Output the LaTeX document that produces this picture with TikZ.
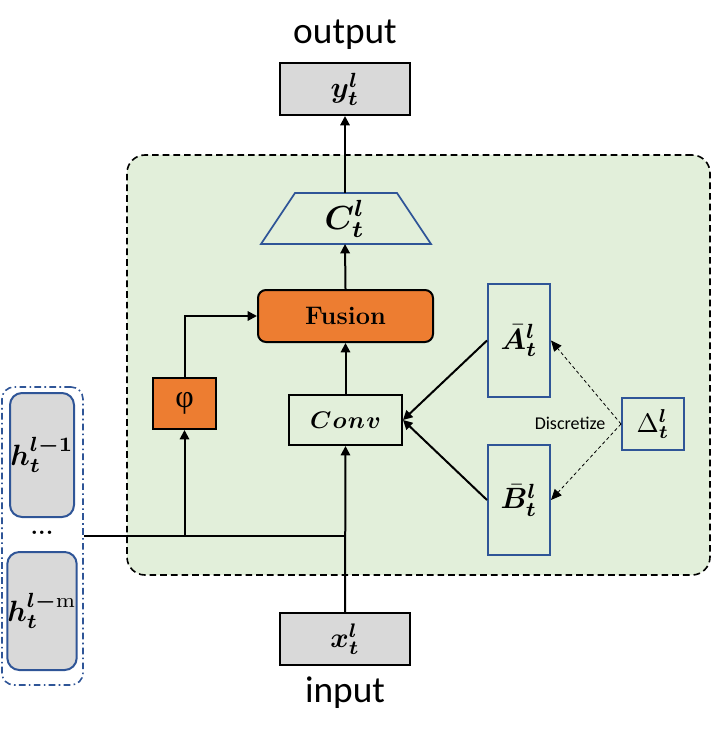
\documentclass[tikz,border=0pt]{standalone}
\usepackage{graphicx}
\usepackage{amsmath,bm}
\usepackage{fontspec}
\newfontfamily\calibfont{Carlito}
\newfontfamily\greekfont{Liberation Serif}
\usetikzlibrary{arrows.meta}
\definecolor{grn}{HTML}{E2EFDA}
\definecolor{org}{HTML}{ED7D31}
\definecolor{gry}{HTML}{D9D9D9}
\definecolor{blu}{HTML}{2F5597}
\newcommand{\fs}[1]{\fontsize{#1}{#1}\selectfont}
\newcommand{\mth}[2]{\scalebox{#1}{\normalsize$#2$}}
\begin{document}
\begin{tikzpicture}[x=0.75pt,y=-0.75pt,
  blk/.style={draw=black,line width=1.5pt,inner sep=0pt},
  bluebox/.style={draw=blu,line width=1.5pt,inner sep=0pt},
  conn/.style={line width=1.5pt,-{Triangle[length=7pt,width=7pt]}},
  plain/.style={line width=1.5pt},
  dconn/.style={line width=0.6pt,dash pattern=on 2.5pt off 2pt,-{Triangle[length=8pt,width=7pt]}},
  lbl/.style={inner sep=0pt,font=\calibfont\fs{28pt}}]
\useasboundingbox (0,0) rectangle (712,741);
% green region
\node[draw=black,fill=grn,line width=1.2pt,dash pattern=on 5pt off 3pt,rounded corners=13.5pt,
  minimum width=437.25pt,minimum height=315pt,inner sep=0pt] (region) at (418.5,365) {};
% left group
\node[draw=blu,line width=1.2pt,dash pattern=on 5pt off 2.5pt on 1.2pt off 2.5pt,rounded corners=9pt,
  minimum width=60.75pt,minimum height=223.5pt,inner sep=0pt] (grp) at (42.5,536) {};
\node[bluebox,fill=gry,rounded corners=9pt,minimum width=48pt,minimum height=93pt] (h1) at (42,455)
  {\mth{2.2}{\bm{h}_{\bm t}^{\bm{l-1}}}};
\node[bluebox,fill=gry,rounded corners=9pt,minimum width=48pt,minimum height=88.5pt] (hm) at (42,611)
  {\mth{2.2}{\bm{h}_{\bm t}^{\bm{l-}\mathrm{m}}}};
\node[inner sep=0pt,font=\bfseries\fs{18pt}] (dots) at (42,533) {...};
% output / input
\node[lbl] (outlbl) at (345,35) {output};
\node[lbl] (inlbl) at (345,693) {input};
\node[blk,fill=gry,minimum width=97.5pt,minimum height=39pt] (y) at (345,89)
  {\mth{2.2}{\bm{y}_{\bm t}^{\bm l}}};
\node[blk,fill=gry,minimum width=97.5pt,minimum height=39pt] (x) at (345,639)
  {\mth{2.1}{\bm{x}_{\bm t}^{\bm l}}};
% C trapezoid
\draw[draw=blu,line width=1.3pt] (295,193) -- (397,193) -- (431,244) -- (261,244) -- cycle;
\node[inner sep=0pt] (C) at (345,219) {\mth{2.5}{\bm{C}_{\bm t}^{\bm l}}};
\coordinate (Ctop) at (345,193);
\coordinate (Cbot) at (345,244);
% Fusion
\node[blk,fill=org,rounded corners=6pt,minimum width=131.25pt,minimum height=39pt] (fusion) at (345.5,316)
  {\fs{19pt}\bfseries Fusion};
% phi
\node[blk,fill=org,minimum width=47.25pt,minimum height=38.25pt] (phi) at (184.5,403.5)
  {\greekfont\fs{24pt}φ};
% Conv
\node[blk,minimum width=84.75pt,minimum height=37.5pt] (conv) at (345.5,420)
  {\mth{1.8}{\bm{C\mkern1mu o\mkern1mu n\mkern1mu v}}};
% A, B, Delta
\node[bluebox,minimum width=46.5pt,minimum height=84.75pt] (A) at (519,340.5)
  {\mth{2.2}{\bar{\bm{A}}_{\bm t}^{\bm l}}};
\node[bluebox,minimum width=46.5pt,minimum height=82.5pt] (B) at (519,500)
  {\mth{2.2}{\bar{\bm{B}}_{\bm t}^{\bm l}}};
\node[bluebox,minimum width=46.5pt,minimum height=39pt] (D) at (653,424)
  {\mth{2.0}{\Delta_{\bm t}^{\bm l}}};
\node[inner sep=0pt,font=\calibfont\fs{13.5pt}] (disc) at (570,423) {Discretize};
% connectors
\coordinate (j1) at (184.5,536);
\coordinate (j2) at (345,536);
\draw[conn] (Ctop) -- (y.south);
\draw[conn] (fusion.north) -- (Cbot);
\draw[conn] (conv.north) -- (fusion.south);
\draw[conn] (phi.north) |- (fusion.west);
\draw[plain] (grp.east) -- (j2);
\draw[conn] (j1) -- (phi.south);
\draw[conn] (x.north) -- (conv.south);
\draw[conn] (A.west) -- (conv.east);
\draw[conn] (B.west) -- (conv.east);
\draw[dconn] (D.west) -- (A.east);
\draw[dconn] (D.west) -- (B.east);
\end{tikzpicture}
\end{document}
